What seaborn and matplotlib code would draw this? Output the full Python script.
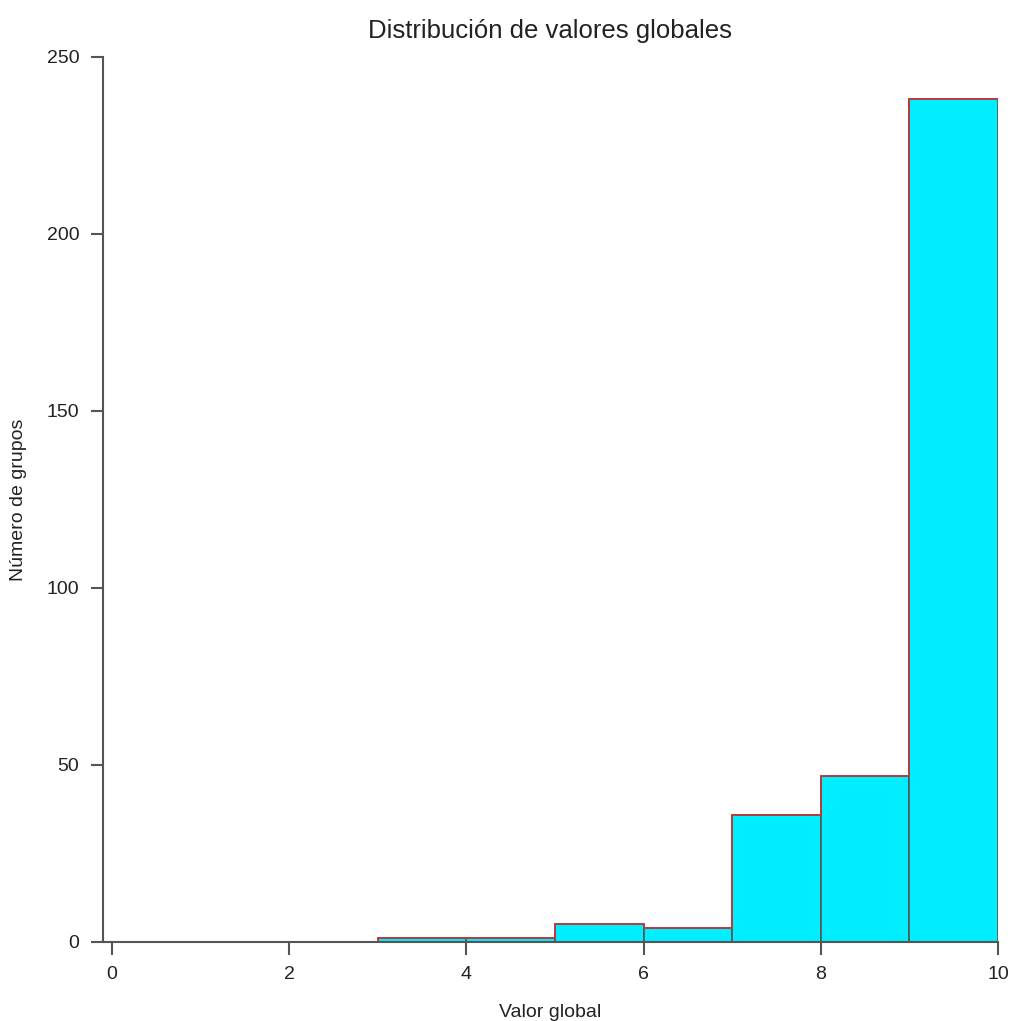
import numpy as np
import pandas as pd
import matplotlib
matplotlib.use("Agg")
import matplotlib.pyplot as plt
import seaborn as sns

# bin centres (width 1, from 0 to 10) and group counts
bin_edges = [0, 1, 2, 3, 4, 5, 6, 7, 8, 9, 10]
bin_centers = [0.5, 1.5, 2.5, 3.5, 4.5, 5.5, 6.5, 7.5, 8.5, 9.5]
counts = [0, 0, 0, 1, 1, 5, 4, 36, 47, 238]

x_ticks = [0, 2, 4, 6, 8, 10]
y_ticks = [0, 50, 100, 150, 200, 250]

sns.set_theme(style="white")
plt.rcParams["font.family"] = ["Liberation Sans", "DejaVu Sans"]

df = pd.DataFrame({"valor": bin_centers, "n": counts})

fig = plt.figure(figsize=(10.11, 10.21), dpi=100)
ax = fig.add_axes([0.1019, 0.0774, 0.8852, 0.8668])

# filled bars with gray dividers
sns.histplot(data=df, x="valor", weights="n", bins=bin_edges, element="bars",
             color="#00EEFF", alpha=1, edgecolor="#555555", linewidth=1.2, ax=ax)
# red outline on top
sns.histplot(data=df, x="valor", weights="n", bins=bin_edges, element="step",
             fill=False, color="#CC3333", linewidth=1.2, ax=ax)

ax.set_xlim(-0.1, 10)
ax.set_ylim(0, 250)
ax.set_xticks(x_ticks)
ax.set_yticks(y_ticks)

for side in ["top", "right"]:
    ax.spines[side].set_visible(False)
for side in ["left", "bottom"]:
    ax.spines[side].set_color("#555555")
    ax.spines[side].set_linewidth(1.5)
    ax.spines[side].set_zorder(5)

ax.tick_params(axis="both", direction="out", length=9, width=1.5, color="#555555",
               labelsize=14, labelcolor="#222222", pad=8, left=True, bottom=True)

ax.set_title("Distribución de valores globales", fontsize=18.5, color="#222222", pad=14)
ax.set_xlabel("Valor global", fontsize=14, color="#222222")
ax.set_ylabel("Número de grupos", fontsize=14, color="#222222")
ax.xaxis.set_label_coords(0.5, -0.08)
ax.yaxis.set_label_coords(-0.094, 0.5)
ax.xaxis.label.set_va("center")
ax.yaxis.label.set_va("center")

fig.savefig("out.png", dpi=100)
